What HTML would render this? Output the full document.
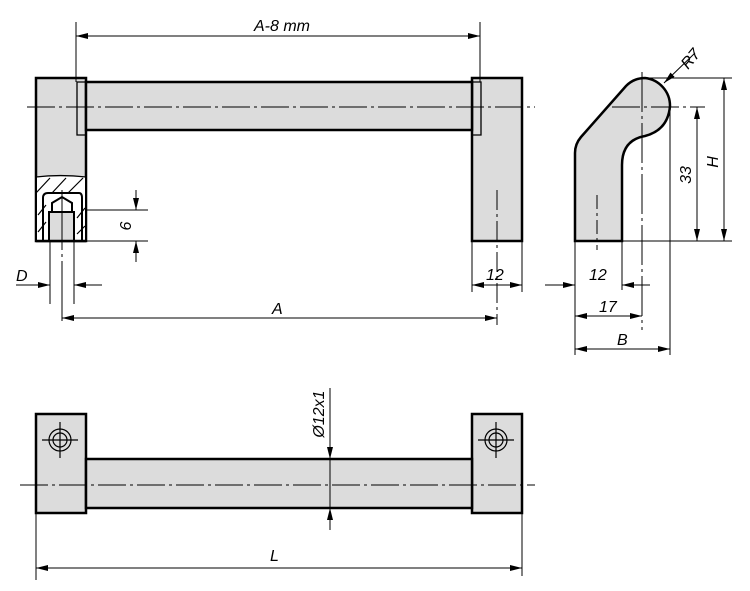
<!DOCTYPE html>
<html><head><meta charset="utf-8"><style>
html,body{margin:0;padding:0;background:#fff}
svg{display:block}
text{font-family:"Liberation Sans",sans-serif;font-style:italic;font-size:16px;fill:#000}
</style></head><body>
<svg width="750" height="591" viewBox="0 0 750 591" xmlns="http://www.w3.org/2000/svg">
<defs>
<marker id="a" viewBox="0 0 12 6" refX="12" refY="3" markerWidth="12" markerHeight="6" orient="auto-start-reverse" markerUnits="userSpaceOnUse"><path d="M0,0L12,3L0,6z" fill="#000"/></marker>
</defs>
<g stroke="#000" fill="none">
<!-- TOP VIEW -->
<rect x="36" y="78" width="50" height="163" fill="#dcdcdc" stroke-width="2.5"/>
<rect x="472" y="78" width="50" height="163" fill="#dcdcdc" stroke-width="2.5"/>
<rect x="86" y="82" width="386" height="48" fill="#dcdcdc" stroke-width="2.5"/>
<path d="M86,82H77V135H86M472,82H481V135H472" stroke-width="1.3"/>
<!-- hatched section -->
<rect x="37" y="177" width="48" height="63" fill="#fff" stroke="none"/>
<rect x="50" y="212" width="23" height="28" fill="#dcdcdc" stroke="none"/>
<path d="M36,177Q60,174 86,177" stroke-width="1.2"/>
<path d="M36,193L50,178M52,193L66,178M68,193L83,178M38,215L46,205M38,232L46,222M77,218L85,208M77,234L85,226" stroke-width="1.2"/>
<path d="M43,241V198Q43,193 48,193H79Q82,193 82,198V241" stroke-width="2"/>
<path d="M49,241V212H74V241M52,212V203L62,197L72,203V212" stroke-width="2"/>
<line x1="36" y1="241" x2="86" y2="241" stroke-width="2.5"/>
<!-- center lines -->
<path d="M27,107H535" stroke-width="1" stroke-dasharray="28,4,3,4"/>
<line x1="497" y1="190" x2="497" y2="325" stroke-width="1" stroke-dasharray="20,4,3,4"/>
<line x1="62" y1="190" x2="62" y2="325" stroke-width="1" stroke-dasharray="60,4,3,4"/>
<!-- A-8 mm -->
<line x1="76" y1="22" x2="76" y2="82" stroke-width="1"/>
<line x1="480" y1="22" x2="480" y2="82" stroke-width="1"/>
<line x1="76" y1="36" x2="480" y2="36" stroke-width="1" marker-start="url(#a)" marker-end="url(#a)"/>
<!-- 6 -->
<line x1="86" y1="210" x2="148" y2="210" stroke-width="1"/>
<line x1="86" y1="241" x2="148" y2="241" stroke-width="1"/>
<line x1="136" y1="190" x2="136" y2="210" stroke-width="1" marker-end="url(#a)"/>
<line x1="136" y1="262" x2="136" y2="241" stroke-width="1" marker-end="url(#a)"/>
<!-- D -->
<line x1="50" y1="241" x2="50" y2="304" stroke-width="1"/>
<line x1="74" y1="241" x2="74" y2="304" stroke-width="1"/>
<line x1="16" y1="285" x2="50" y2="285" stroke-width="1" marker-end="url(#a)"/>
<line x1="102" y1="285" x2="74" y2="285" stroke-width="1" marker-end="url(#a)"/>
<!-- 12 -->
<line x1="472" y1="241" x2="472" y2="292" stroke-width="1"/>
<line x1="522" y1="241" x2="522" y2="292" stroke-width="1"/>
<line x1="472" y1="285" x2="522" y2="285" stroke-width="1" marker-start="url(#a)" marker-end="url(#a)"/>
<!-- A -->
<line x1="62" y1="318" x2="497" y2="318" stroke-width="1" marker-start="url(#a)" marker-end="url(#a)"/>

<!-- SIDE VIEW -->
<path d="M575,241V153Q575,144 581,137L626,86Q634,78 645,78A28,28 0 0 1 670,106Q668,130 645,136Q622,140 622,165V241Z" fill="#dcdcdc" stroke-width="2.5"/>
<line x1="597" y1="195" x2="597" y2="250" stroke-width="1" stroke-dasharray="14,4,3,4"/>
<line x1="642" y1="72" x2="642" y2="330" stroke-width="1" stroke-dasharray="40,4,3,4"/>
<line x1="612" y1="107" x2="705" y2="107" stroke-width="1" stroke-dasharray="28,4,3,4"/>
<line x1="670" y1="106" x2="670" y2="355" stroke-width="1"/>
<line x1="575" y1="241" x2="575" y2="355" stroke-width="1"/>
<line x1="622" y1="241" x2="622" y2="290" stroke-width="1"/>
<line x1="622" y1="241" x2="732" y2="241" stroke-width="1"/>
<line x1="645" y1="78" x2="732" y2="78" stroke-width="1"/>
<line x1="697" y1="107" x2="697" y2="241" stroke-width="1" marker-start="url(#a)" marker-end="url(#a)"/>
<line x1="724" y1="78" x2="724" y2="241" stroke-width="1" marker-start="url(#a)" marker-end="url(#a)"/>
<line x1="695" y1="53" x2="664" y2="83" stroke-width="1" marker-end="url(#a)"/>
<line x1="545" y1="285" x2="575" y2="285" stroke-width="1" marker-end="url(#a)"/>
<line x1="650" y1="285" x2="622" y2="285" stroke-width="1" marker-end="url(#a)"/>
<line x1="575" y1="316" x2="642" y2="316" stroke-width="1" marker-start="url(#a)" marker-end="url(#a)"/>
<line x1="575" y1="349" x2="670" y2="349" stroke-width="1" marker-start="url(#a)" marker-end="url(#a)"/>

<!-- BOTTOM VIEW -->
<rect x="36" y="414" width="50" height="99" fill="#dcdcdc" stroke-width="2.5"/>
<rect x="472" y="414" width="50" height="99" fill="#dcdcdc" stroke-width="2.5"/>
<rect x="86" y="459" width="386" height="49" fill="#dcdcdc" stroke-width="2.5"/>
<line x1="20" y1="485" x2="535" y2="485" stroke-width="1" stroke-dasharray="28,4,3,4"/>
<g stroke-width="1.2">
<circle cx="60" cy="440" r="11"/><circle cx="60" cy="440" r="7"/>
<path d="M42,440H78M60,422V458"/>
<circle cx="496" cy="440" r="11"/><circle cx="496" cy="440" r="7"/>
<path d="M478,440H514M496,422V458"/>
</g>
<line x1="330" y1="388" x2="330" y2="459" stroke-width="1" marker-end="url(#a)"/>
<line x1="330" y1="530" x2="330" y2="508" stroke-width="1" marker-end="url(#a)"/>
<line x1="330" y1="459" x2="330" y2="508" stroke-width="1"/>
<line x1="36" y1="513" x2="36" y2="580" stroke-width="1"/>
<line x1="522" y1="513" x2="522" y2="576" stroke-width="1"/>
<line x1="36" y1="568" x2="522" y2="568" stroke-width="1" marker-start="url(#a)" marker-end="url(#a)"/>
</g>
<text x="254" y="31">A-8 mm</text>
<text x="16" y="281">D</text>
<text x="486" y="280">12</text>
<text x="272" y="314">A</text>
<text transform="translate(131,226) rotate(-90)" text-anchor="middle">6</text>
<text x="589" y="280">12</text>
<text x="599" y="312">17</text>
<text x="617" y="345">B</text>
<text transform="translate(688,70) rotate(-50)">R7</text>
<text transform="translate(691,175) rotate(-90)" text-anchor="middle">33</text>
<text transform="translate(718,162) rotate(-90)" text-anchor="middle">H</text>
<text transform="translate(324,414) rotate(-90)" text-anchor="middle">Ø12x1</text>
<text x="270" y="561">L</text>
</svg>
</body></html>
